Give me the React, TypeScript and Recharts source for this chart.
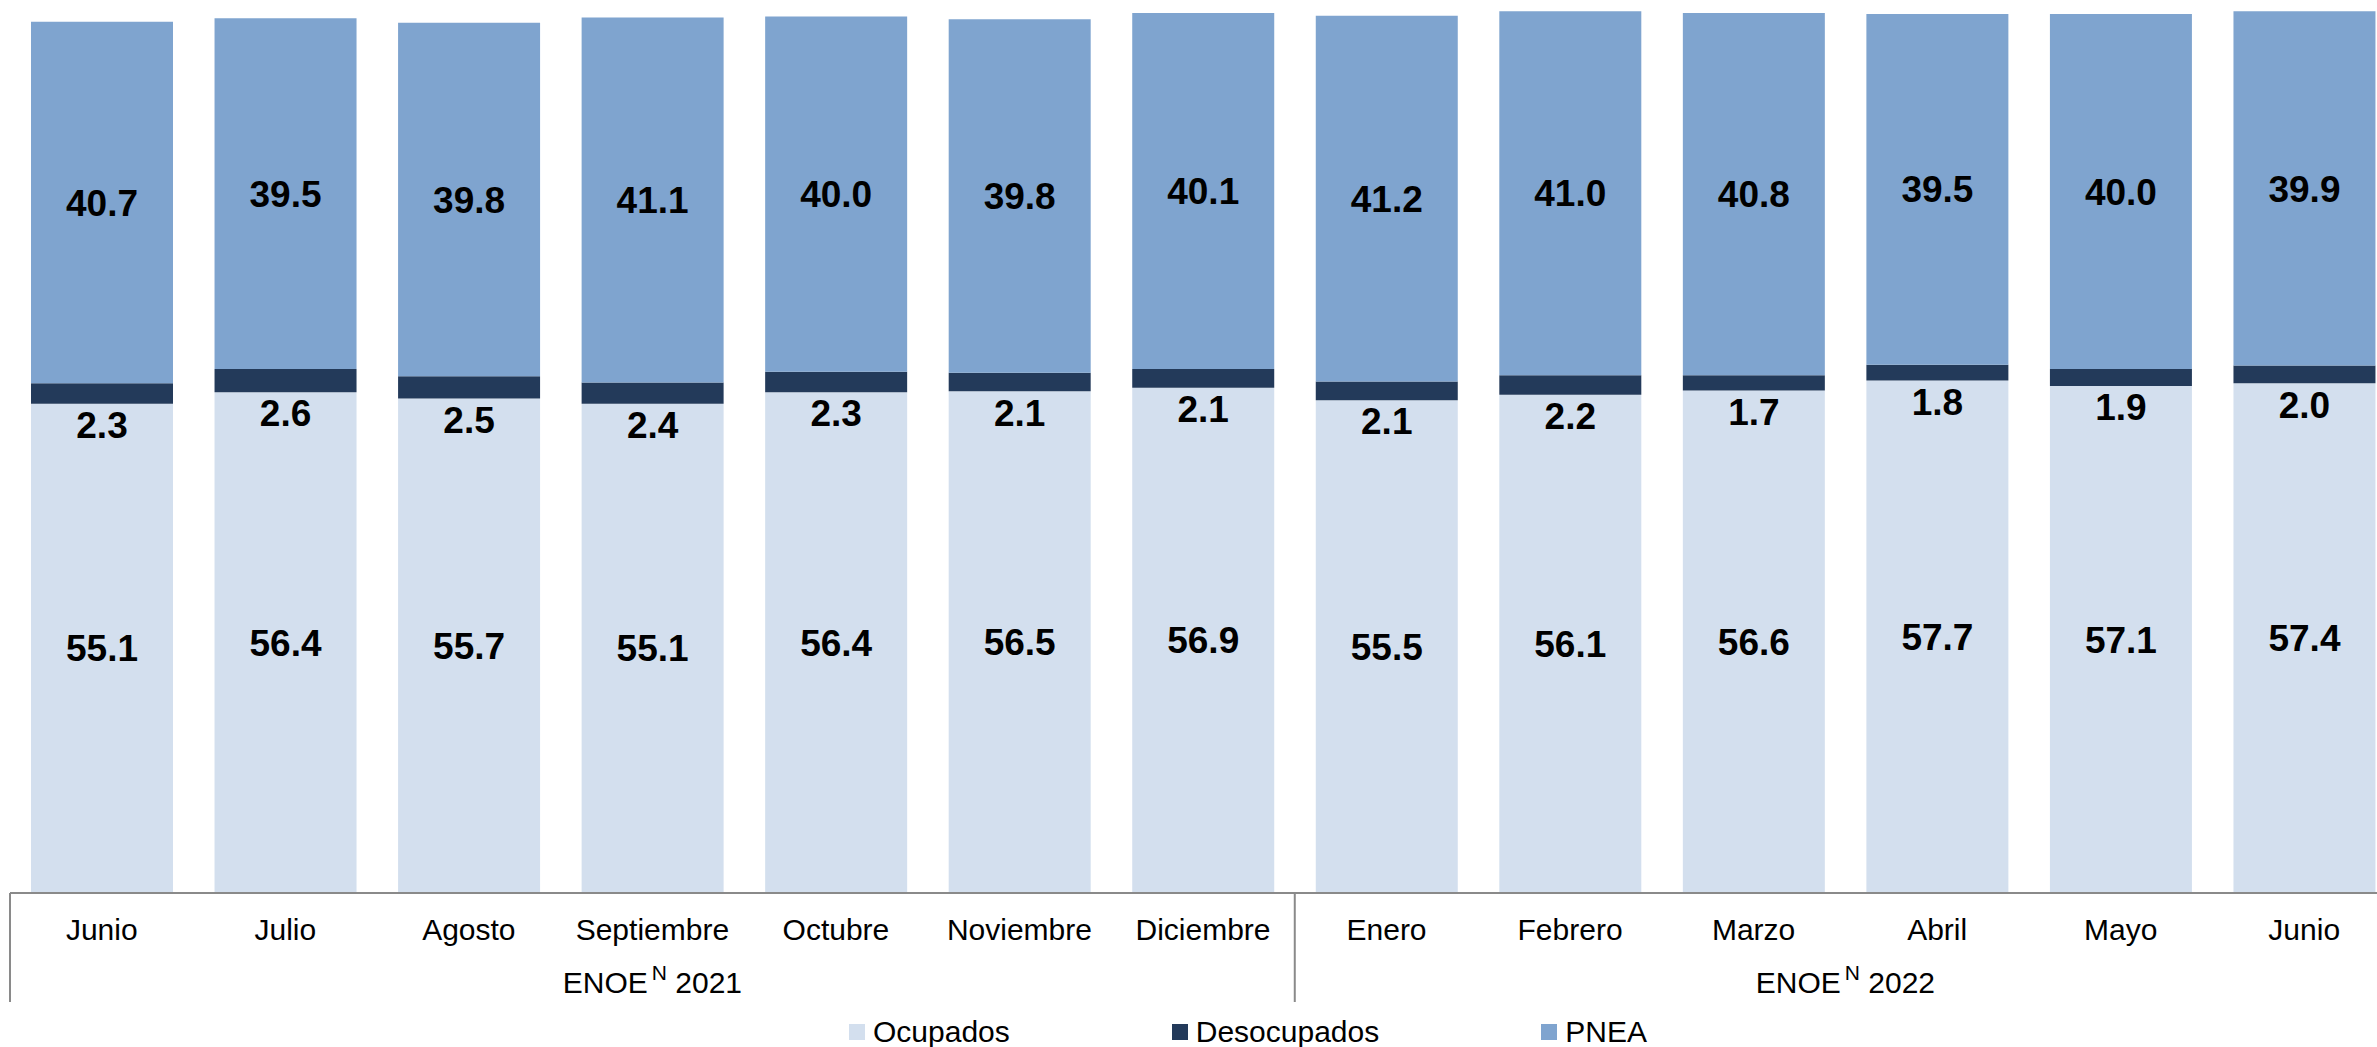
import React from 'react';
import { BarChart, Bar, XAxis, YAxis, Legend, LabelList } from 'recharts';

const months = ['Junio', 'Julio', 'Agosto', 'Septiembre', 'Octubre', 'Noviembre', 'Diciembre', 'Enero', 'Febrero', 'Marzo', 'Abril', 'Mayo', 'Junio'];
const ocupados = [55.1, 56.4, 55.7, 55.1, 56.4, 56.5, 56.9, 55.5, 56.1, 56.6, 57.7, 57.1, 57.4];
const desocupados = [2.3, 2.6, 2.5, 2.4, 2.3, 2.1, 2.1, 2.1, 2.2, 1.7, 1.8, 1.9, 2.0];
const pnea = [40.7, 39.5, 39.8, 41.1, 40.0, 39.8, 40.1, 41.2, 41.0, 40.8, 39.5, 40.0, 39.9];
const groups = [
  { label: '2021', from: 0, to: 6 },
  { label: '2022', from: 7, to: 12 },
];

const data = months.map((mes, i) => ({
  mes,
  Ocupados: ocupados[i],
  Desocupados: desocupados[i],
  PNEA: pnea[i],
}));

const COLORS = { Ocupados: '#D3DFEE', Desocupados: '#233A5A', PNEA: '#7FA4CF' };
const FONT = '"Liberation Sans", Arial, sans-serif';
const CHART_W = 2396;
const MARGIN_L = 10;
const BAND = (CHART_W - MARGIN_L) / months.length;
const LINE = '#8A8A8A';

const fmt = (v: any) => Number(v).toFixed(1);

const MonthTick = (props: any) => {
  const { x, y, payload } = props;
  const i = payload.index;
  const group = groups.find((g) => g.from === i);
  return (
    <g>
      <text x={x} y={y + 47} textAnchor="middle" fontSize={30} fontFamily={FONT} fill="#000">
        {payload.value}
      </text>
      {group && (
        <>
          <line x1={x - BAND / 2} x2={x - BAND / 2} y1={y} y2={y + 109} stroke={LINE} strokeWidth={2} />
          <text
            x={x - BAND / 2 + ((group.to - group.from + 1) * BAND) / 2}
            y={y + 100}
            textAnchor="middle"
            fontSize={30}
            fontFamily={FONT}
            fill="#000"
          >
            ENOE
            <tspan dx={4} dy={-13} fontSize={21}>N</tspan>
            <tspan dy={13}> {group.label}</tspan>
          </text>
        </>
      )}
    </g>
  );
};

const LegendContent = () => (
  <div style={{ display: 'flex', alignItems: 'center', height: 30, fontFamily: FONT, fontSize: 30 }}>
    {(['Ocupados', 'Desocupados', 'PNEA'] as const).map((k) => (
      <div key={k} style={{ display: 'flex', alignItems: 'center', marginRight: 162 }}>
        <span style={{ width: 16, height: 16, background: COLORS[k], marginRight: 8, display: 'inline-block' }} />
        <span style={{ color: '#000', lineHeight: '30px' }}>{k}</span>
      </div>
    ))}
  </div>
);

const App: React.FC = () => {
  const labelStyle = { fontSize: 37, fontWeight: 700, fontFamily: FONT, fill: '#000' };
  return (
    <div style={{ position: 'absolute', left: 0, top: 0, width: 2377, height: 1047, overflow: 'hidden', background: '#fff' }}>
      <BarChart
        width={CHART_W}
        height={1047}
        data={data}
        margin={{ top: 5, right: 0, left: MARGIN_L, bottom: 0 }}
        barSize={142}
      >
        <XAxis
          dataKey="mes"
          height={124}
          tickLine={false}
          tickSize={0}
          tickMargin={0}
          interval={0}
          axisLine={{ stroke: LINE, strokeWidth: 2 }}
          tick={<MonthTick />}
        />
        <YAxis hide domain={[0, 100]} />
        <Legend
          verticalAlign="bottom"
          height={30}
          content={<LegendContent />}
          wrapperStyle={{ left: 849, width: 'auto', height: 30 }}
        />
        <Bar dataKey="Ocupados" stackId="a" fill={COLORS.Ocupados} isAnimationActive={false}>
          <LabelList dataKey="Ocupados" position="center" formatter={fmt} style={labelStyle} />
        </Bar>
        <Bar dataKey="Desocupados" stackId="a" fill={COLORS.Desocupados} isAnimationActive={false}>
          <LabelList dataKey="Desocupados" position="bottom" offset={8} formatter={fmt} style={labelStyle} />
        </Bar>
        <Bar dataKey="PNEA" stackId="a" fill={COLORS.PNEA} isAnimationActive={false}>
          <LabelList dataKey="PNEA" position="center" formatter={fmt} style={labelStyle} />
        </Bar>
      </BarChart>
    </div>
  );
};

export default App;
